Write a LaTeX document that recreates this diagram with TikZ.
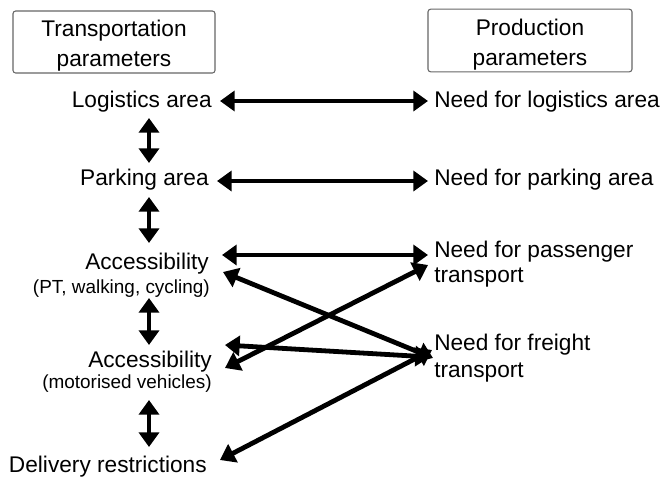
\documentclass[tikz,border=0pt]{standalone}
\usepackage{fontspec}
\setmainfont{Liberation Sans}
\usetikzlibrary{arrows.meta,calc}
\begin{document}
\begin{tikzpicture}[x=0.75pt,y=-0.75pt,
  lbl/.style={inner sep=0pt, font=\fontsize{17}{20}\selectfont},
  sublbl/.style={inner sep=0pt, font=\fontsize{14.2}{17}\selectfont},
  hdr/.style={draw=black!60, rounded corners=2pt, line width=0.8pt, inner sep=0pt},
  hdrtxt/.style={align=center, inner sep=0pt, font=\fontsize{17}{22.5}\selectfont},
  dbl/.style={line width=3.6pt, {Triangle[length=11pt,width=15pt]}-{Triangle[length=11pt,width=15pt]}}]
\useasboundingbox (0,0) rectangle (662,479);
% headers
\node[hdr, minimum width=151.5pt, minimum height=46.5pt] (hl) at (114,42) {};
\node[hdrtxt] (hlt) at ($(hl.center)+(0,4)$) {Transportation\\parameters};
\node[hdr, minimum width=153pt, minimum height=47pt] (hr) at (530,40.5) {};
\node[hdrtxt] (hrt) at ($(hr.center)+(0,4)$) {Production\\parameters};
% left labels
\node[lbl, anchor=mid east] (log) at (212,104) {Logistics area};
\node[lbl, anchor=mid east] (park) at (209,182) {Parking area};
\node[lbl, anchor=mid east] (acc1) at (209,266) {Accessibility};
\node[sublbl, anchor=mid east] (acc1s) at (210,290) {(PT, walking, cycling)};
\node[lbl, anchor=mid east] (acc2) at (212,364) {Accessibility};
\node[sublbl, anchor=mid east] (acc2s) at (212,385) {(motorised vehicles)};
\node[lbl, anchor=mid east] (del) at (207,469) {Delivery restrictions};
% right labels
\node[lbl, anchor=mid west] (nlog) at (434,104) {Need for logistics area};
\node[lbl, anchor=mid west] (npark) at (434,182) {Need for parking area};
\node[lbl, anchor=mid west] (npas) at (434,254) {Need for passenger};
\node[lbl, anchor=mid west] (npas2) at (434,279) {transport};
\node[lbl, anchor=mid west] (nfr) at (434,347) {Need for freight};
\node[lbl, anchor=mid west] (nfr2) at (434,374) {transport};
\coordinate (vx) at (149,0);
% vertical arrows
\draw[dbl] ($(log.mid -| vx)+(0,14)$) -- ($(park.mid -| vx)+(0,-19)$);
\draw[dbl] ($(park.mid -| vx)+(0,15)$) -- ($(acc1.mid -| vx)+(0,-23)$);
\draw[dbl] ($(acc1s.mid -| vx)+(0,8)$) -- ($(acc2.mid -| vx)+(0,-19)$);
\draw[dbl] ($(acc2s.mid -| vx)+(0,15)$) -- ($(del.mid -| vx)+(0,-22)$);
% horizontal / crossing arrows
\draw[dbl] ($(log.mid east)+(8,-3)$) -- ($(nlog.mid west)+(-6,-3)$);
\draw[dbl] ($(park.mid east)+(8,-1)$) -- ($(npark.mid west)+(-6,-1)$);
\draw[dbl] ($(acc1.mid east)+(13,-11)$) -- ($(npas.mid west)+(-6,1)$);
\draw[dbl] ($(acc1.mid east)+(14,6)$) -- ($(nfr.mid west)+(-1,11)$);
\draw[dbl] ($(acc2.mid east)+(13,-19)$) -- ($(nfr.mid west)+(-4,10)$);
\draw[dbl] ($(acc2.mid east)+(13,4)$) -- ($(npas.mid west)+(-6,11)$);
\draw[dbl] ($(del.mid east)+(13,-9)$) -- ($(nfr.mid west)+(-2,3)$);
\end{tikzpicture}
\end{document}
